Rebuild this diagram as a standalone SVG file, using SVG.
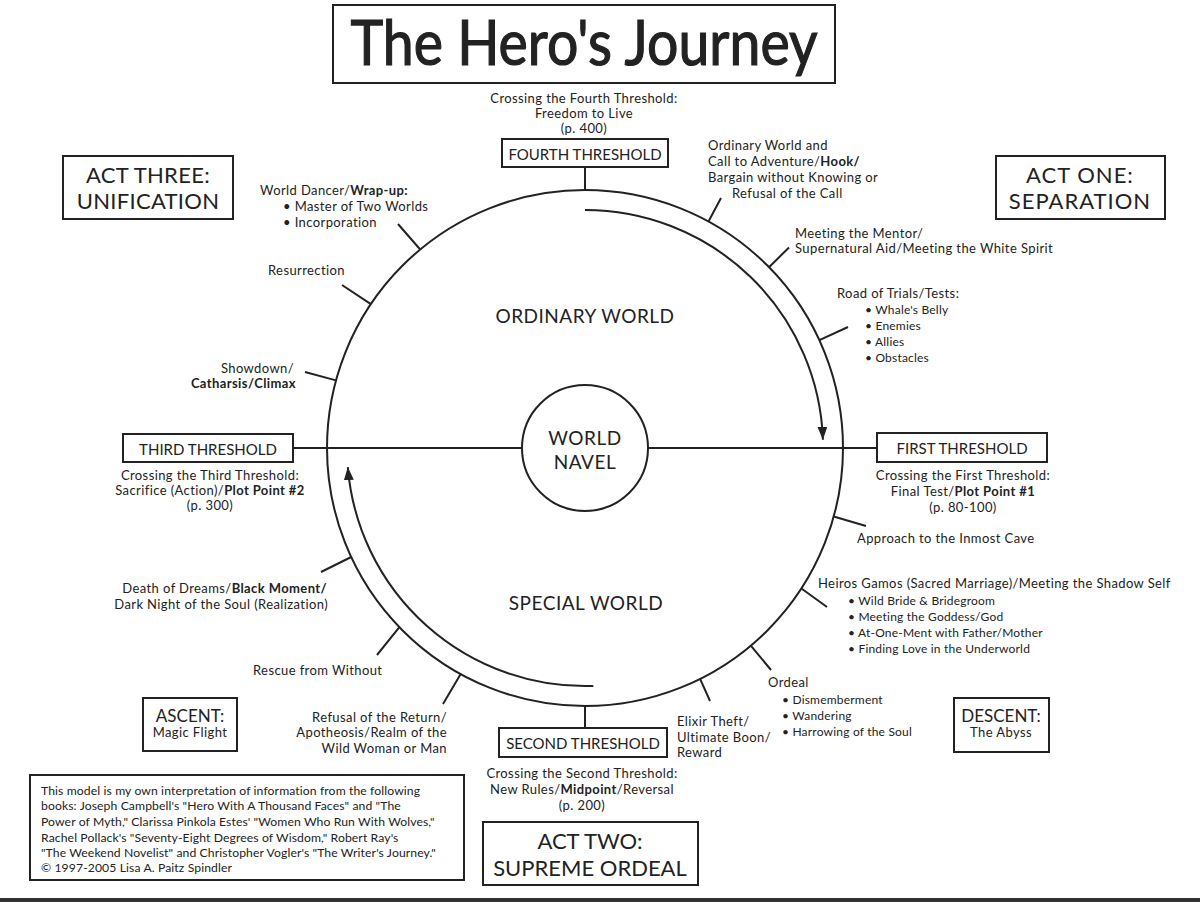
<svg xmlns="http://www.w3.org/2000/svg" width="1200" height="902" viewBox="0 0 1200 902">
<style>
text{font-family:Lato,"Liberation Sans",sans-serif;fill:#222}
.s{font-size:13px;letter-spacing:0.4px}
.xs{font-size:12px;letter-spacing:0.2px}
.fn{font-size:12.2px;letter-spacing:0.1px}
.m{text-anchor:middle}
.e{text-anchor:end}
.b{font-weight:bold}
.th{font-size:15px}
.act{font-size:22px;letter-spacing:1px}
.wd{font-size:19px;letter-spacing:0.5px}
.box{fill:#fff;stroke:#222;stroke-width:2}
.ln{stroke:#222;stroke-width:2;fill:none}
</style>
<defs>
<marker id="ah" markerUnits="userSpaceOnUse" markerWidth="14" markerHeight="12" refX="13" refY="5" orient="auto">
<path d="M0,0 L13,5 L0,10 Z" fill="#222"/>
</marker>
</defs>
<rect width="1200" height="902" fill="#fff"/>
<rect x="0" y="898" width="1200" height="4" fill="#333"/>

<g id="connectors">
<circle class="ln" cx="585" cy="448" r="258"/>
<path class="ln" d="M293,448 H522 M648,448 H877"/>
<path class="ln" d="M585,210 A238,238 0 0 1 822.9,439.7" marker-end="url(#ah)"/>
<path class="ln" d="M593.3,685.9 A238,238 0 0 1 347.8,467.1" marker-end="url(#ah)"/>
<path class="ln" d="M585,190 L585,167 M585,706 L585,728
M708.5,221.5 L721,198
M769,267.2 L789,247.5
M819.4,340.2 L848,327
M833.7,516.5 L866,526
M801.4,588.5 L827,607
M750.8,645.6 L771,670
M700.1,678.9 L710,701
M460.7,674.1 L443,704
M399.4,627.2 L377,655
M351.2,557 L321,572
M336,380.4 L305,372
M370.9,304.1 L342,285
M420.2,249.5 L398,224"/>
</g>

<g id="title">
<rect class="box" x="333" y="5" width="502" height="78"/>
<text x="584" y="65" class="m" style="font-size:62px;stroke:#222;stroke-width:1.2" textLength="467" lengthAdjust="spacingAndGlyphs">The Hero's Journey</text>
</g>

<g id="navel">
<circle class="ln" cx="585" cy="448" r="63" fill="#fff"/>
<text x="585" y="445" class="m wd">WORLD</text>
<text x="585" y="469" class="m wd">NAVEL</text>
</g>

<g id="ordinary-world"><text x="585" y="323" class="m wd">ORDINARY WORLD</text></g>
<g id="special-world"><text x="586" y="610" class="m wd">SPECIAL WORLD</text></g>

<g id="fourth-threshold">
<text x="584" y="103" class="m s">Crossing the Fourth Threshold:</text>
<text x="584" y="118" class="m s">Freedom to Live</text>
<text x="584" y="133" class="m s">(p. 400)</text>
<rect class="box" x="502" y="139" width="166" height="28"/>
<text x="585" y="160" class="m th">FOURTH THRESHOLD</text>
</g>

<g id="first-threshold">
<rect class="box" x="877" y="433" width="170" height="29"/>
<text x="962" y="454" class="m th">FIRST THRESHOLD</text>
<text x="963" y="480" class="m s">Crossing the First Threshold:</text>
<text x="963" y="496" class="m s">Final Test/<tspan class="b">Plot Point #1</tspan></text>
<text x="963" y="512" class="m s">(p. 80-100)</text>
</g>

<g id="second-threshold">
<rect class="box" x="499" y="728" width="168" height="29"/>
<text x="583" y="749" class="m th">SECOND THRESHOLD</text>
<text x="582" y="778" class="m s">Crossing the Second Threshold:</text>
<text x="582" y="794" class="m s">New Rules/<tspan class="b">Midpoint</tspan>/Reversal</text>
<text x="582" y="810" class="m s">(p. 200)</text>
</g>

<g id="third-threshold">
<rect class="box" x="123" y="434" width="170" height="28"/>
<text x="208" y="455" class="m th">THIRD THRESHOLD</text>
<text x="210" y="480" class="m s">Crossing the Third Threshold:</text>
<text x="210" y="495" class="m s">Sacrifice (Action)/<tspan class="b">Plot Point #2</tspan></text>
<text x="210" y="510" class="m s">(p. 300)</text>
</g>

<g id="act-one">
<rect class="box" x="996" y="156" width="169" height="63"/>
<text x="1080" y="183" class="m act">ACT ONE:</text>
<text x="1080" y="209" class="m act">SEPARATION</text>
</g>

<g id="act-two">
<rect class="box" x="483" y="822" width="215" height="63"/>
<text x="590" y="849" class="m act" style="letter-spacing:0">ACT TWO:</text>
<text x="590" y="876" class="m act" style="letter-spacing:0">SUPREME ORDEAL</text>
</g>

<g id="act-three">
<rect class="box" x="63" y="156" width="170" height="63"/>
<text x="148" y="183" class="m act" style="letter-spacing:0.3px">ACT THREE:</text>
<text x="148" y="209" class="m act" style="letter-spacing:0.3px">UNIFICATION</text>
</g>

<g id="ascent">
<rect class="box" x="143" y="698" width="94" height="53"/>
<text x="190" y="722" class="m" style="font-size:17px">ASCENT:</text>
<text x="190" y="737" class="m s">Magic Flight</text>
</g>

<g id="descent">
<rect class="box" x="954" y="698" width="95" height="54"/>
<text x="1001" y="722" class="m" style="font-size:17px">DESCENT:</text>
<text x="1001" y="737" class="m s">The Abyss</text>
</g>

<g id="ordinary-world-call">
<text x="708" y="150" class="s">Ordinary World and</text>
<text x="708" y="166" class="s">Call to Adventure/<tspan class="b">Hook/</tspan></text>
<text x="708" y="182" class="s">Bargain without Knowing or</text>
<text x="732" y="198" class="s">Refusal of the Call</text>
</g>

<g id="mentor">
<text x="795" y="238" class="s">Meeting the Mentor/</text>
<text x="795" y="253" class="s">Supernatural Aid/Meeting the White Spirit</text>
</g>

<g id="road-of-trials">
<text x="837" y="298" class="s">Road of Trials/Tests:</text>
<text x="865" y="314" class="xs">• Whale's Belly</text>
<text x="865" y="330" class="xs">• Enemies</text>
<text x="865" y="346" class="xs">• Allies</text>
<text x="865" y="362" class="xs">• Obstacles</text>
</g>

<g id="inmost-cave"><text x="857" y="543" class="s">Approach to the Inmost Cave</text></g>

<g id="heiros-gamos">
<text x="818" y="588" class="s">Heiros Gamos (Sacred Marriage)/Meeting the Shadow Self</text>
<text x="848" y="605" class="xs">• Wild Bride &amp; Bridegroom</text>
<text x="848" y="621" class="xs">• Meeting the Goddess/God</text>
<text x="848" y="637" class="xs">• At-One-Ment with Father/Mother</text>
<text x="848" y="653" class="xs">• Finding Love in the Underworld</text>
</g>

<g id="ordeal">
<text x="768" y="687" class="s">Ordeal</text>
<text x="782" y="704" class="xs">• Dismemberment</text>
<text x="782" y="720" class="xs">• Wandering</text>
<text x="782" y="736" class="xs">• Harrowing of the Soul</text>
</g>

<g id="elixir">
<text x="677" y="726" class="s">Elixir Theft/</text>
<text x="677" y="742" class="s">Ultimate Boon/</text>
<text x="677" y="757" class="s">Reward</text>
</g>

<g id="refusal-return">
<text x="447" y="722" class="e s">Refusal of the Return/</text>
<text x="447" y="737" class="e s">Apotheosis/Realm of the</text>
<text x="447" y="753" class="e s">Wild Woman or Man</text>
</g>

<g id="rescue"><text x="253" y="675" class="s">Rescue from Without</text></g>

<g id="death-of-dreams">
<text x="327" y="593" class="e s">Death of Dreams/<tspan class="b">Black Moment/</tspan></text>
<text x="328" y="609" class="e s">Dark Night of the Soul (Realization)</text>
</g>

<g id="showdown">
<text x="294" y="373" class="e s">Showdown/</text>
<text x="296" y="388" class="e s b">Catharsis/Climax</text>
</g>

<g id="resurrection"><text x="268" y="275" class="s">Resurrection</text></g>

<g id="world-dancer">
<text x="260" y="195" class="s">World Dancer/<tspan class="b">Wrap-up:</tspan></text>
<text x="283" y="211" class="s">• Master of Two Worlds</text>
<text x="283" y="227" class="s">• Incorporation</text>
</g>

<g id="footnote">
<rect class="box" x="30" y="775" width="434" height="105"/>
<text x="41" y="795" class="fn">This model is my own interpretation of information from the following</text>
<text x="41" y="810" class="fn">books: Joseph Campbell's "Hero With A Thousand Faces" and "The</text>
<text x="41" y="826" class="fn">Power of Myth," Clarissa Pinkola Estes' "Women Who Run With Wolves,"</text>
<text x="41" y="842" class="fn">Rachel Pollack's "Seventy-Eight Degrees of Wisdom," Robert Ray's</text>
<text x="41" y="857" class="fn">"The Weekend Novelist" and Christopher Vogler's "The Writer's Journey."</text>
<text x="41" y="872" class="fn">© 1997-2005 Lisa A. Paitz Spindler</text>
</g>
</svg>
